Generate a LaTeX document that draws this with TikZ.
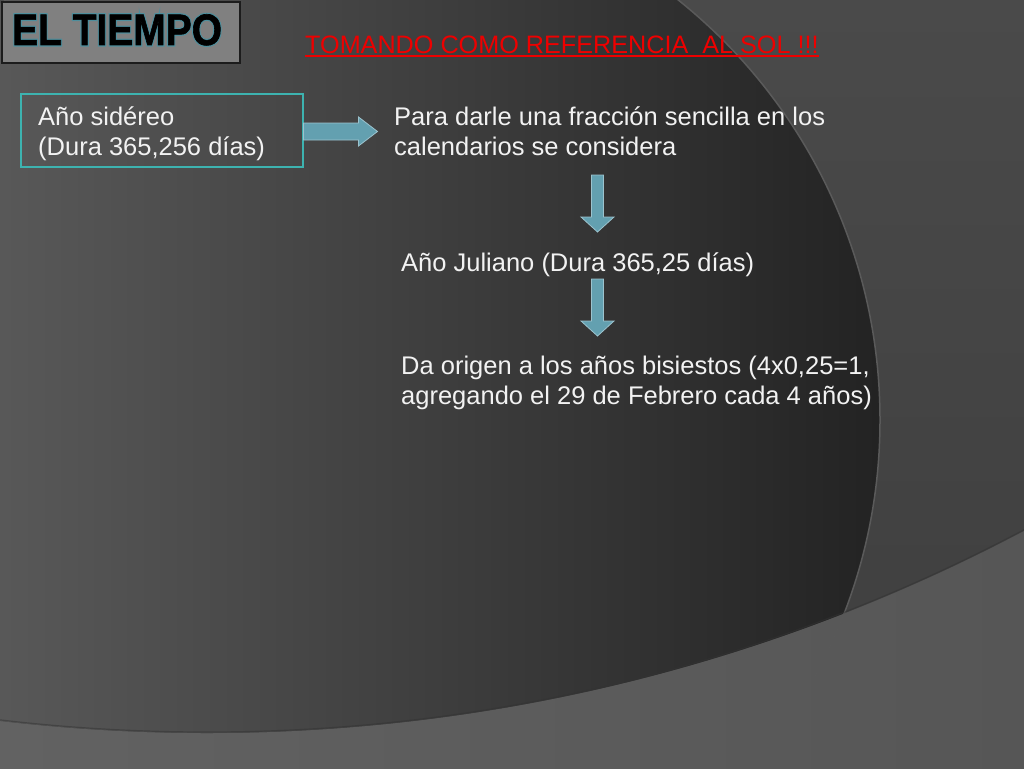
\documentclass[tikz,border=0pt]{standalone}
\usepackage{fontspec}
\setmainfont{Liberation Sans}
\newfontfamily\glowfont[FakeBold=7]{Liberation Sans Bold}
\newfontfamily\titlefont[FakeBold=1.5]{Liberation Sans Bold}
\definecolor{bandL}{HTML}{626262}
\definecolor{bandR}{HTML}{565656}
\definecolor{rightT}{HTML}{4A4A4A}
\definecolor{rightB}{HTML}{3E3E3E}
\definecolor{darkL}{HTML}{646464}
\definecolor{darkR}{HTML}{232323}
\definecolor{rimc}{HTML}{5A5A5A}
\definecolor{titlefill}{HTML}{808080}
\definecolor{titleedge}{HTML}{1C1C1C}
\definecolor{glowc}{HTML}{4E8E9C}
\definecolor{redc}{HTML}{EE0000}
\definecolor{boxedge}{HTML}{3DB3B0}
\definecolor{arrfill}{HTML}{63A0B0}
\definecolor{arredge}{HTML}{9CC3CE}
\definecolor{txt}{HTML}{F2F2F2}
\newcommand{\titletxt}{EL TIEMPO}
\tikzset{
  bodytext/.style={text=txt, inner sep=0pt, anchor=base west, align=left,
    font=\fontsize{25.5}{30}\selectfont},
  titletext/.style={inner sep=0pt, anchor=base west, xscale=0.885},
  blockarrow/.style={fill=arrfill, draw=arredge, line width=0.8pt, line join=miter},
}
\begin{document}
\begin{tikzpicture}[x=1pt,y=-1pt]
\useasboundingbox (0,0) rectangle (1024,768);
% background
\shade[left color=bandL, right color=bandR] (0,0) rectangle (1024,768);
\begin{scope}
  \clip (207,-1016) circle[radius=1749];
  \shade[top color=rightT, bottom color=rightB] (0,0) rectangle (1024,768);
  \shade[left color=darkL, right color=darkR] (342,420) circle[radius=538];
  \draw[rimc, line width=1.5pt] (342,420) circle[radius=538];
  \draw[black!80, line width=1.2pt, opacity=0.5] (207,-1016) circle[radius=1748];
\end{scope}
\draw[black!65, line width=0.8pt] (342,420) ++(21:538) arc[start angle=21, end angle=50, radius=538];

% title
\node[fill=titlefill, draw=titleedge, line width=2pt, anchor=north west,
  minimum width=238, minimum height=61, inner sep=0pt] (titlebox) at (1,1) {};
\node[titletext, text=glowc, font=\fontsize{44}{44}\glowfont] (glow) at ([xshift=11pt, yshift=-44pt]titlebox.north west) {\titletxt};
\node[titletext, text=black, font=\fontsize{44}{44}\titlefont] (title) at ([xshift=11pt, yshift=-44pt]titlebox.north west) {\titletxt};

% red subtitle
\node[inner sep=0pt, anchor=base west, text=redc, font=\fontsize{25.2}{30}\selectfont] (sol) at (305,53) {TOMANDO COMO REFERENCIA\ \ AL SOL !!!};
\draw[redc, line width=1.3pt] ([yshift=-3pt]sol.base west) -- ([yshift=-3pt]sol.base east);

% box
\node[draw=boxedge, line width=1.5pt, anchor=north west, minimum width=282,
  minimum height=73, inner sep=0pt] (sid) at (20,93) {};
\node[bodytext] (sidtext) at (38,155) {Año sidéreo\\(Dura 365,256 días)};

\node[bodytext] (para) at (394,155) {Para darle una fracción sencilla en los\\calendarios se considera};
\node[bodytext] (jul) at (401,271) {Año Juliano (Dura 365,25 días)};
\node[bodytext] (orig) at (401,404) {Da origen a los años bisiestos (4x0,25=1,\\agregando el 29 de Febrero cada 4 años)};

% arrows
\coordinate (a1) at (sid.east |- 0,131.5);
\draw[blockarrow] (a1) ++(0,-8.5) -- ++(55,0) -- ++(0,-6) -- ++(19,14.5)
  -- ++(-19,14.5) -- ++(0,-6) -- ++(-55,0) -- cycle;
\coordinate (a2) at (597.5,175);
\draw[blockarrow] (a2) ++(-6,0) -- ++(0,42) -- ++(-10.5,0) -- ++(16.5,15)
  -- ++(16.5,-15) -- ++(-10.5,0) -- ++(0,-42) -- cycle;
\coordinate (a3) at (597.5,279);
\draw[blockarrow] (a3) ++(-6,0) -- ++(0,42) -- ++(-10.5,0) -- ++(16.5,15)
  -- ++(16.5,-15) -- ++(-10.5,0) -- ++(0,-42) -- cycle;
\end{tikzpicture}
\end{document}
